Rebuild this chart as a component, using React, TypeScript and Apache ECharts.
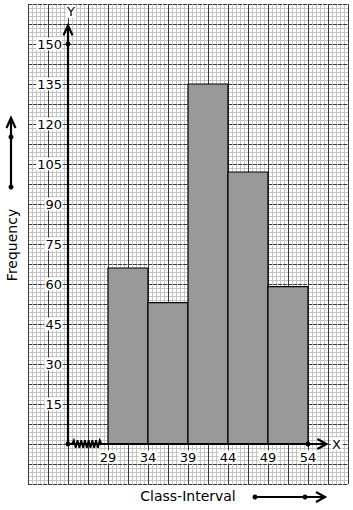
import React, { useEffect, useRef } from "react";
import * as echarts from "echarts";

// ---- data ----
const classEdges = [29, 34, 39, 44, 49, 54];
const frequencies = [66, 53, 135, 102, 59];
const yTicks = [15, 30, 45, 60, 75, 90, 105, 120, 135, 150];
const xTickLabels = ["29", "34", "39", "44", "49", "54"];

// ---- axis ranges ----
const X_MIN = 19;
const X_MAX = 59;
const Y_MIN = -15;
const Y_MAX = 165;
const ORIGIN_X = 24;
const Y_ARROW_END = 157;
const X_ARROW_END = 56.3;

const MINOR = "#c4c4c4";
const MAJOR = "#3a3a3a";
const FONT = "DejaVu Sans";

function gridAxis(span: number, interval: number, color: string, z: number, dashed: boolean) {
  return {
    type: "value",
    min: 0,
    max: span,
    interval,
    z,
    axisLine: { show: false },
    axisTick: { show: false },
    axisLabel: { show: false },
    splitLine: { show: true, lineStyle: { color, width: 1, type: dashed ? [4, 1] : "solid" } },
  };
}

export default function App() {
  const ref = useRef<HTMLDivElement>(null);
  useEffect(() => {
    if (!ref.current) return;
    const chart = echarts.init(ref.current, null, { renderer: "svg" });

    const zig: number[][] = [];
    const zStart = 24.5, zEnd = 28.2, nZ = 16;
    for (let i = 0; i <= nZ; i++) {
      const y = i === 0 || i === nZ ? 0 : (i % 2 === 1 ? 1.4 : -1.4);
      zig.push([zStart + ((zEnd - zStart) * i) / nZ, y]);
    }

    const option: any = {
      animation: false,
      grid: { left: 28, right: 5, top: 4, bottom: 26, containLabel: false, outerBoundsMode: "none" },
      xAxis: [
        { type: "value", min: X_MIN, max: X_MAX, show: false },
        gridAxis(X_MAX - X_MIN, 0.5, MINOR, 0, false),
        gridAxis(X_MAX - X_MIN, 2.5, MAJOR, 1, false),
      ],
      yAxis: [
        { type: "value", min: Y_MIN, max: Y_MAX, show: false },
        gridAxis(Y_MAX - Y_MIN, 1.5, MINOR, 0, false),
        gridAxis(Y_MAX - Y_MIN, 7.5, MAJOR, 1, true),
      ],
      series: [
        {
          type: "custom",
          name: "histogram",
          xAxisIndex: 0,
          yAxisIndex: 0,
          z: 3,
          data: frequencies.map((f, i) => [classEdges[i], classEdges[i + 1], f]),
          encode: { x: [0, 1], y: 2 },
          renderItem: (params: any, api: any) => {
            const p0 = api.coord([api.value(0), api.value(2)]);
            const p1 = api.coord([api.value(1), 0]);
            return {
              type: "rect",
              shape: { x: p0[0], y: p0[1], width: p1[0] - p0[0], height: p1[1] - p0[1] },
              style: { fill: "#999999", stroke: "#000", lineWidth: 1.2 },
            };
          },
        },
        {
          type: "custom",
          name: "axes",
          xAxisIndex: 0,
          yAxisIndex: 0,
          z: 5,
          data: [[ORIGIN_X, 0]],
          renderItem: (params: any, api: any) => {
            const o = api.coord([ORIGIN_X, 0]);
            const yt = api.coord([ORIGIN_X, Y_ARROW_END]);
            const xt = api.coord([X_ARROW_END, 0]);
            const d150 = api.coord([ORIGIN_X, 150]);
            const d54 = api.coord([classEdges[classEdges.length - 1], 0]);
            const ln = { stroke: "#000", lineWidth: 2.2 };
            return {
              type: "group",
              children: [
                { type: "line", shape: { x1: o[0], y1: o[1], x2: yt[0], y2: yt[1] }, style: ln },
                { type: "line", shape: { x1: o[0], y1: o[1], x2: xt[0], y2: xt[1] }, style: ln },
                {
                  type: "polyline",
                  shape: { points: [[yt[0] - 4.5, yt[1] + 10], [yt[0], yt[1]], [yt[0] + 4.5, yt[1] + 10]] },
                  style: { stroke: "#000", lineWidth: 2.2, fill: "none" },
                },
                {
                  type: "polyline",
                  shape: { points: [[xt[0] - 9, xt[1] - 5], [xt[0], xt[1]], [xt[0] - 9, xt[1] + 5]] },
                  style: { stroke: "#000", lineWidth: 2.2, fill: "none" },
                },
                {
                  type: "polyline",
                  shape: { points: zig.map((p) => api.coord(p)) },
                  style: { stroke: "#000", lineWidth: 1.8, fill: "none" },
                },
                { type: "circle", shape: { cx: o[0], cy: o[1], r: 2.5 }, style: { fill: "#000" } },
                { type: "circle", shape: { cx: d150[0], cy: d150[1], r: 2.5 }, style: { fill: "#000" } },
                { type: "circle", shape: { cx: d54[0], cy: d54[1], r: 2.5 }, style: { fill: "#000" } },
                {
                  type: "text",
                  x: yt[0] + 3,
                  y: yt[1] - 14,
                  style: { text: "Y", fontSize: 13, fontFamily: FONT, fill: "#000", align: "center", verticalAlign: "middle", backgroundColor: "#fff", padding: [0, 1] },
                },
                {
                  type: "text",
                  x: xt[0] + 10,
                  y: xt[1],
                  style: { text: "X", fontSize: 13, fontFamily: FONT, fill: "#000", align: "center", verticalAlign: "middle", backgroundColor: "#fff", padding: [0, 1] },
                },
              ],
            };
          },
        },
        {
          type: "custom",
          name: "yLabels",
          xAxisIndex: 0,
          yAxisIndex: 0,
          z: 5,
          data: yTicks.map((v) => [ORIGIN_X, v]),
          renderItem: (params: any, api: any) => {
            const p = api.coord([api.value(0), api.value(1)]);
            return {
              type: "text",
              x: p[0] - 6,
              y: p[1],
              style: {
                text: String(yTicks[params.dataIndex]),
                fontSize: 13,
                fontFamily: FONT,
                fill: "#000",
                align: "right",
                verticalAlign: "middle",
                backgroundColor: "#fff",
                padding: [0, 0, 0, 1],
              },
            };
          },
        },
        {
          type: "custom",
          name: "xLabels",
          xAxisIndex: 0,
          yAxisIndex: 0,
          z: 5,
          data: classEdges.map((v) => [v, 0]),
          renderItem: (params: any, api: any) => {
            const p = api.coord([api.value(0), api.value(1)]);
            return {
              type: "text",
              x: p[0],
              y: p[1] + 13,
              style: {
                text: xTickLabels[params.dataIndex],
                fontSize: 13,
                fontFamily: FONT,
                fill: "#000",
                align: "center",
                verticalAlign: "middle",
                backgroundColor: "#fff",
                padding: [0, 1],
              },
            };
          },
        },
      ],
      graphic: [
        {
          type: "text",
          x: 12,
          y: 245,
          rotation: Math.PI / 2,
          style: { text: "Frequency", fontSize: 14, fontFamily: FONT, fill: "#000", align: "center", verticalAlign: "middle" },
        },
        {
          type: "text",
          x: 188,
          y: 496,
          style: { text: "Class-Interval", fontSize: 14, fontFamily: FONT, fill: "#000", align: "center", verticalAlign: "middle" },
        },
        { type: "line", shape: { x1: 11, y1: 187, x2: 11, y2: 119 }, style: { stroke: "#000", lineWidth: 2.2 } },
        { type: "polyline", shape: { points: [[6.5, 128], [11, 118], [15.5, 128]] }, style: { stroke: "#000", lineWidth: 2.2, fill: "none" } },
        { type: "circle", shape: { cx: 11, cy: 187, r: 2.5 }, style: { fill: "#000" } },
        { type: "circle", shape: { cx: 11, cy: 137, r: 2.5 }, style: { fill: "#000" } },
        { type: "line", shape: { x1: 255, y1: 497, x2: 324, y2: 497 }, style: { stroke: "#000", lineWidth: 2.2 } },
        { type: "polyline", shape: { points: [[316, 492], [325, 497], [316, 502]] }, style: { stroke: "#000", lineWidth: 2.2, fill: "none" } },
        { type: "circle", shape: { cx: 255, cy: 497, r: 2.5 }, style: { fill: "#000" } },
        { type: "circle", shape: { cx: 305, cy: 497, r: 2.5 }, style: { fill: "#000" } },
      ],
    };
    chart.setOption(option);
    return () => chart.dispose();
  }, []);
  return (
    <div
      ref={ref}
      style={{ position: "fixed", left: 0, top: 0, width: 353, height: 510, background: "#fff" }}
    />
  );
}
